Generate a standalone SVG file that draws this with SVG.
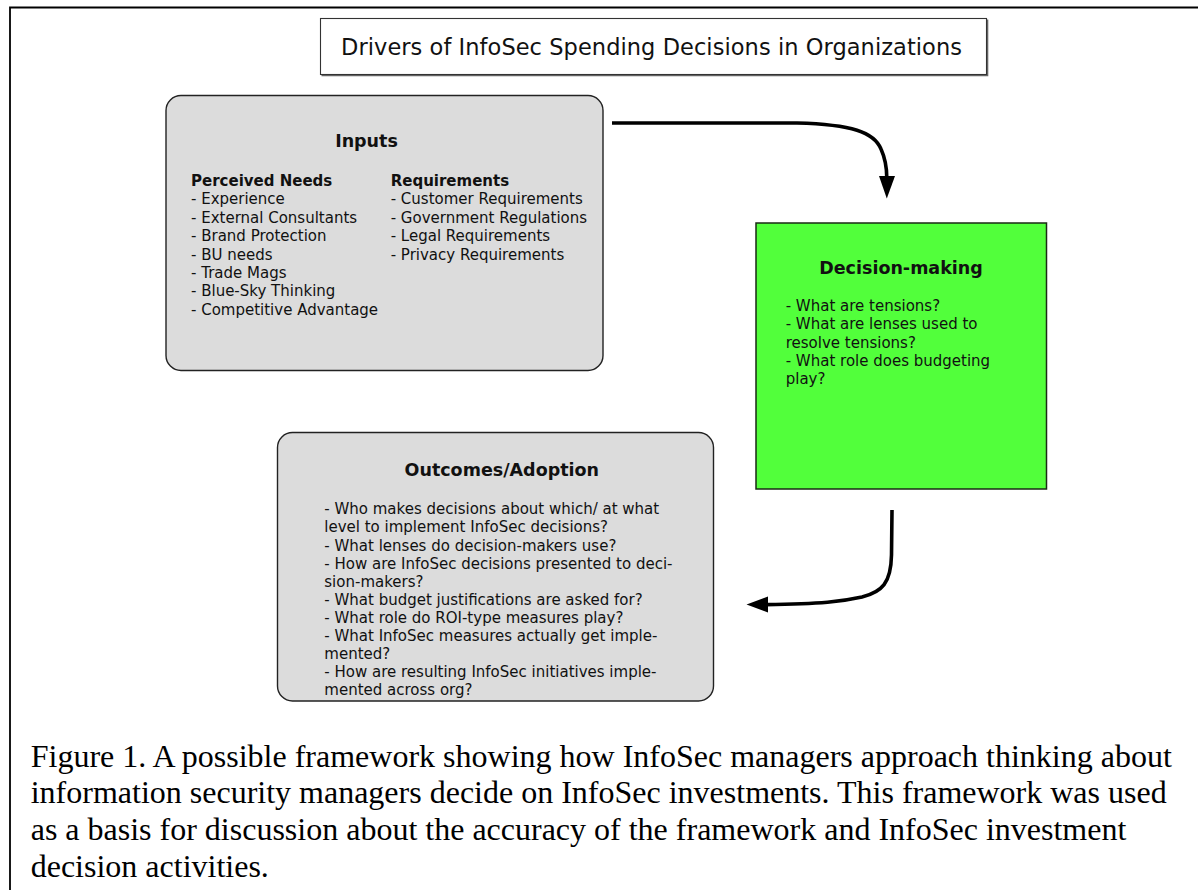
<svg xmlns="http://www.w3.org/2000/svg" width="1198" height="890" viewBox="0 0 1198 890">
  <style>
    .sans { font-family: "DejaVu Sans", Verdana, sans-serif; fill: #111; }
    .item { font-size: 15px; }
    .head { font-size: 15px; font-weight: bold; }
    .ttl { font-size: 17.5px; font-weight: bold; text-anchor: middle; }
    .panel { fill: #dcdcdc; stroke: #222; stroke-width: 1.4; }
    .conn { fill: none; stroke: #000; stroke-width: 3.6; stroke-linecap: butt; }
    .caption { font-family: "Liberation Serif", "Times New Roman", serif; font-size: 32px; fill: #000; }
  </style>

  <rect width="1198" height="890" fill="#fff"/>

  <!-- page frame (open on the right and bottom) -->
  <path d="M10,892 L10,7.5 L1200,7.5" fill="none" stroke="#000" stroke-width="1.8"/>

  <!-- heading -->
  <g id="heading">
    <path d="M321.5,75.5 H987.5 V19.5" fill="none" stroke="#666" stroke-width="1.6"/>
    <rect x="320.5" y="18.5" width="666" height="56" fill="#fff" stroke="#333" stroke-width="1.1"/>
    <text class="sans" x="341" y="55" font-size="22.5" textLength="621" lengthAdjust="spacing">Drivers of InfoSec Spending Decisions in Organizations</text>
  </g>

  <!-- inputs -->
  <g id="inputs">
    <rect class="panel" x="166" y="95.5" width="437" height="275" rx="15" ry="15"/>
    <text class="sans ttl" x="366.5" y="146.7">Inputs</text>
    <text class="sans head" x="191" y="186">Perceived Needs</text>
    <text class="sans item">
      <tspan x="191" y="204.3">- Experience</tspan>
      <tspan x="191" y="222.7">- External Consultants</tspan>
      <tspan x="191" y="241.1">- Brand Protection</tspan>
      <tspan x="191" y="259.5">- BU needs</tspan>
      <tspan x="191" y="277.9">- Trade Mags</tspan>
      <tspan x="191" y="296.3">- Blue-Sky Thinking</tspan>
      <tspan x="191" y="314.7">- Competitive Advantage</tspan>
    </text>
    <text class="sans head" x="390.7" y="186">Requirements</text>
    <text class="sans item">
      <tspan x="390.7" y="204.3">- Customer Requirements</tspan>
      <tspan x="390.7" y="222.7">- Government Regulations</tspan>
      <tspan x="390.7" y="241.1">- Legal Requirements</tspan>
      <tspan x="390.7" y="259.5">- Privacy Requirements</tspan>
    </text>
  </g>

  <!-- decision-making -->
  <g id="decision-making">
    <rect x="756" y="223" width="290.5" height="266" fill="#52ff3b" stroke="#1a2a14" stroke-width="1.5"/>
    <text class="sans ttl" x="901" y="274.3">Decision-making</text>
    <text class="sans item">
      <tspan x="785.7" y="310.7">- What are tensions?</tspan>
      <tspan x="785.7" y="329.1">- What are lenses used to</tspan>
      <tspan x="785.7" y="347.5">resolve tensions?</tspan>
      <tspan x="785.7" y="365.9">- What role does budgeting</tspan>
      <tspan x="785.7" y="384.3">play?</tspan>
    </text>
  </g>

  <!-- outcomes / adoption -->
  <g id="outcomes">
    <rect class="panel" x="277.5" y="432.5" width="436" height="268.5" rx="15" ry="15"/>
    <text class="sans ttl" x="501.8" y="475.7">Outcomes/Adoption</text>
    <text class="sans item">
      <tspan x="324.3" y="514.3">- Who makes decisions about which/ at what</tspan>
      <tspan x="324.3" y="532.4">level to implement InfoSec decisions?</tspan>
      <tspan x="324.3" y="550.5">- What lenses do decision-makers use?</tspan>
      <tspan x="324.3" y="568.6">- How are InfoSec decisions presented to deci-</tspan>
      <tspan x="324.3" y="586.7">sion-makers?</tspan>
      <tspan x="324.3" y="604.8">- What budget justifications are asked for?</tspan>
      <tspan x="324.3" y="622.9">- What role do ROI-type measures play?</tspan>
      <tspan x="324.3" y="641">- What InfoSec measures actually get imple-</tspan>
      <tspan x="324.3" y="659.1">mented?</tspan>
      <tspan x="324.3" y="677.2">- How are resulting InfoSec initiatives imple-</tspan>
      <tspan x="324.3" y="695.3">mented across org?</tspan>
    </text>
  </g>

  <!-- connectors -->
  <g id="connectors">
    <path class="conn" d="M612,123 L797,123 C852,124.5 874,132 881,149 C885.5,159 886.8,168 886.8,178"/>
    <polygon points="879,176 895,176 886.8,198.5" fill="#000"/>
    <path class="conn" d="M892,510 L891.5,555 C891,583 882,592 862,597 C842,601.5 822,603.8 766,604.6"/>
    <polygon points="768,596.5 768,612.5 746.5,604.5" fill="#000"/>
  </g>

  <!-- caption -->
  <text class="caption">
    <tspan x="30.7" y="766.5">Figure 1. A possible framework showing how InfoSec managers approach thinking about</tspan>
    <tspan x="30.7" y="803.2">information security managers decide on InfoSec investments. This framework was used</tspan>
    <tspan x="30.7" y="839.9">as a basis for discussion about the accuracy of the framework and InfoSec investment</tspan>
    <tspan x="30.7" y="876.6">decision activities.</tspan>
  </text>
</svg>
